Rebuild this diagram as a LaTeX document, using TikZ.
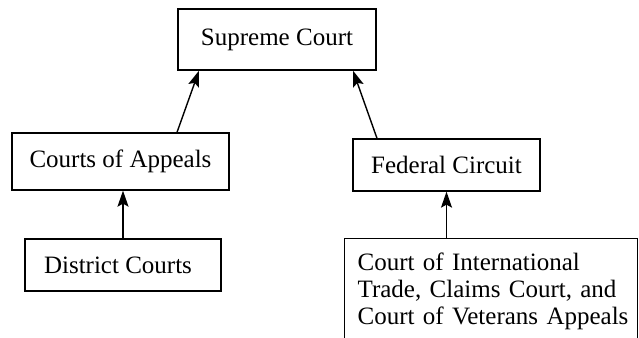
\documentclass[tikz,border=0pt]{standalone}
\usepackage{fontspec}
\setmainfont{Liberation Serif}
\usepackage{xcolor}
\usetikzlibrary{arrows.meta}

\begin{document}
\begin{tikzpicture}[x=1pt,y=-1pt,
		court/.style={draw,line width=1.3pt,rectangle,inner sep=0pt,font=\fontsize{25}{27}\selectfont},
		appeal/.style={-{Stealth[length=16pt,width=11pt,inset=3pt]},line width=1.4pt}]
		\useasboundingbox (0,0) rectangle (639,337);
		\clip (0,0) rectangle (639,337);
		%courts
		\node[court,minimum width=198pt,minimum height=61pt] (supreme) at (277,39.5) {\raisebox{-3pt}{Supreme Court}};
		\node[court,minimum width=217pt,minimum height=57pt] (appeals) at (120.5,161.5) {Courts of Appeals};
		\node[court,minimum width=196pt,minimum height=52pt] (district) at (123,265) {\hspace*{-10pt}District Courts};
		\node[court,minimum width=187pt,minimum height=52pt] (federal) at (446.5,165) {Federal Circuit};
		\node[court,anchor=north west,align=left,text width=267pt,inner xsep=13pt,inner ysep=14pt] (trade) at (344,238)
			{\mbox{Court of International}\\\mbox{Trade, Claims Court, and}\\\mbox{Court of Veterans Appeals}};
		
		%appeals to the top
		\draw[appeal] ([xshift=56.5pt]appeals.north) -- ([xshift=-78pt]supreme.south);
		\draw[appeal] ([xshift=-69.5pt]federal.north) -- ([xshift=76pt]supreme.south);
		\draw[appeal] (district.north) -- (district.north |- appeals.south);
		\draw[appeal] (federal.south |- trade.north) -- (federal.south);
	\end{tikzpicture}
\end{document}
